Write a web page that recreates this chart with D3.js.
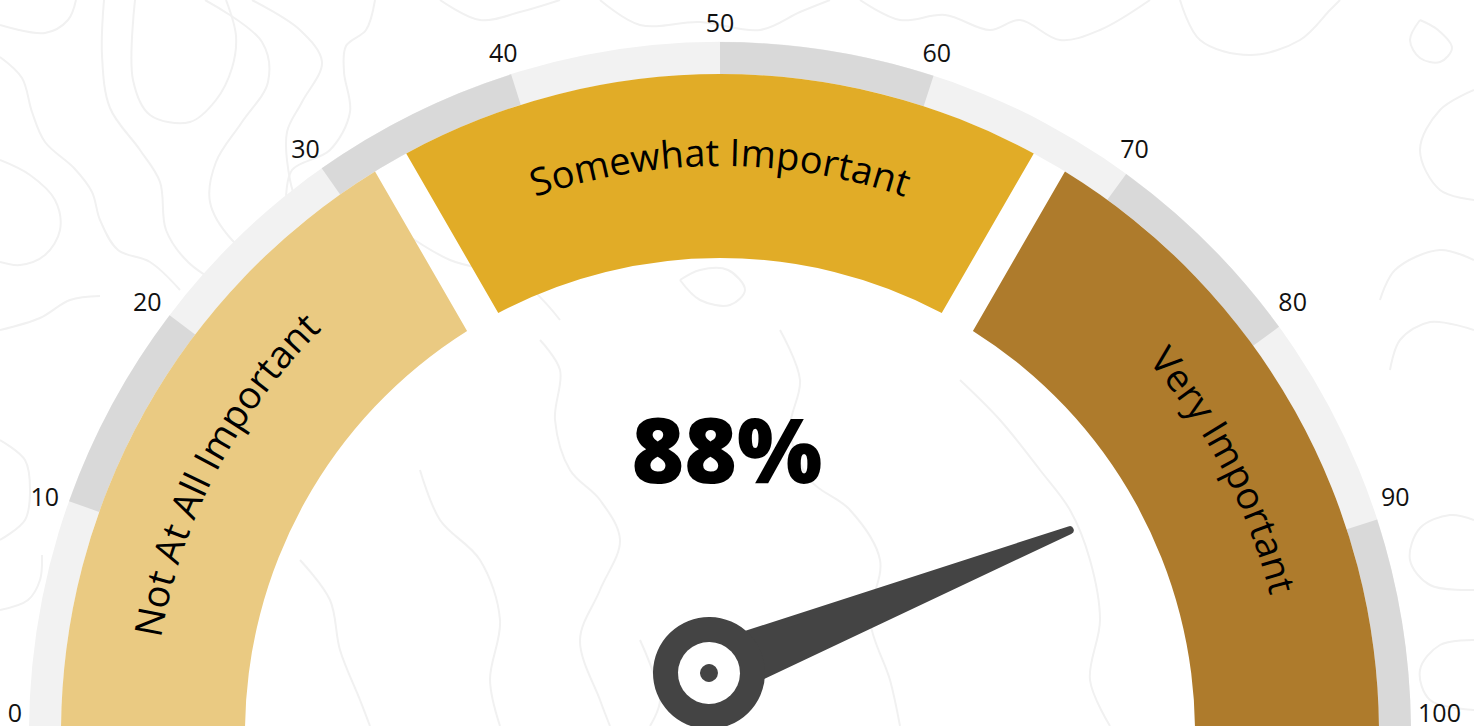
<!DOCTYPE html>
<html>
<head>
<meta charset="utf-8">
<script src="https://cdn.jsdelivr.net/npm/d3@7"></script>
<style>
  html, body { margin: 0; padding: 0; background: #ffffff; overflow: hidden; }
  svg { display: block; }
</style>
</head>
<body>
<svg id="chart" width="1474" height="726"></svg>
<script>
// ---- data ----
const tickValues = [0, 10, 20, 30, 40, 50, 60, 70, 80, 90, 100];
const bandColors = ["#f2f2f2", "#d9d9d9"];
const segmentNames = ["Not At All Important", "Somewhat Important", "Very Important"];
const segmentStarts = [0, 100 / 3, 200 / 3];
const segmentEnds = [100 / 3, 200 / 3, 100];
const segmentColors = ["#eaca82", "#e1ac27", "#ae7b2c"];
const gaugeValue = 88;
const valueLabel = "88%";

// faint topographic texture in the background
const contourLines = [
  [[0,25],[45,33],[68,20],[76,0]],
  [[0,57],[22,78],[32,112],[45,142],[74,168],[92,192],[100,220],[118,250],[150,262],[180,290]],
  [[104,0],[102,55],[110,108],[140,150],[160,182],[166,230],[188,262],[230,290]],
  [[135,0],[133,80],[150,115],[190,122],[216,100],[232,68],[236,36],[226,0]],
  [[205,0],[262,42],[268,82],[242,122],[216,162],[210,202],[232,240],[262,262]],
  [[252,0],[300,30],[322,62],[302,102],[287,132],[290,180],[300,212]],
  [[375,0],[366,30],[346,46],[344,72],[350,112],[330,150],[292,170],[286,200]],
  [[0,160],[30,175],[55,200],[60,230],[45,255],[20,265],[0,262]],
  [[0,330],[40,318],[70,300],[100,296]],
  [[0,540],[25,520],[30,490],[25,460],[0,440]],
  [[0,610],[28,600],[40,580],[42,555]],
  [[440,0],[480,20],[520,12],[560,0]],
  [[600,0],[640,25],[700,22],[760,30],[800,12],[830,0]],
  [[860,0],[900,20],[945,15],[990,30],[1020,20],[1060,40],[1100,30],[1150,0]],
  [[1180,0],[1200,40],[1250,55],[1300,40],[1330,10],[1340,0]],
  [[1420,20],[1438,30],[1452,48],[1440,62],[1420,58],[1410,40],[1420,20]],
  [[1474,90],[1440,110],[1420,150],[1440,190],[1474,200]],
  [[1474,260],[1440,250],[1395,270],[1380,300]],
  [[1474,330],[1430,322],[1400,340],[1390,370]],
  [[1474,520],[1450,515],[1420,528],[1410,560],[1430,585],[1474,590]],
  [[1474,640],[1440,645],[1420,670],[1430,700],[1474,710]],
  [[540,340],[560,370],[555,420],[570,470],[600,500],[620,540],[600,590],[580,640],[600,700],[610,726]],
  [[680,280],[700,300],[730,305],[745,290],[728,270],[700,270],[680,280]],
  [[780,330],[800,380],[790,430],[810,480],[850,510],[880,560],[870,620],[890,680],[900,726]],
  [[960,380],[1000,420],[1040,470],[1070,510],[1090,560],[1100,620],[1090,680],[1110,726]],
  [[300,560],[330,600],[340,650],[360,700],[370,726]],
  [[420,470],[440,520],[480,560],[500,620],[490,680],[500,726]],
  [[640,640],[660,700],[650,726]],
  [[1000,300],[1030,330],[1080,360],[1110,400],[1150,440]],
  [[400,230],[450,260],[520,280],[560,320]],
  [[1060,160],[1100,190],[1130,230],[1140,280]]
];

// ---- layout ----
const width = 1474, height = 726;
const cx = 720, cy = 733;
const bandOuter = 691, bandInner = 659;
const segOuter = 659, segInner = 475;
const segGap = 36;                 // constant linear gap between segments
const labelPathRadius = 567;
const deg = Math.PI / 180;
const labelPathExtend = 5 * deg;   // label arcs run past the gauge ends
const tickLabelRadius = 698;
const tickLabelHalfHeight = 13;
const hub = { x: 709, y: 673 };
const needleLength = 388;

const svg = d3.select("#chart");

// value -> angle (0 at 12 o'clock, clockwise)
const angle = d3.scaleLinear().domain([0, 100]).range([-Math.PI / 2, Math.PI / 2]);
// rim bands and their labels
const bandAngle = d3.scaleLinear().domain([0, 50, 100]).range([-88 * deg, 0, 90 * deg]);
const tickLabelAngle = d3.scaleLinear().domain([0, 100]).range([-88.3 * deg, 88.3 * deg]);

// background texture
const contourLine = d3.line().curve(d3.curveCatmullRom.alpha(0.5));
svg.append("g")
  .selectAll("path")
  .data(contourLines)
  .join("path")
  .attr("d", contourLine)
  .attr("fill", "none")
  .attr("stroke", "#f1f1f1")
  .attr("stroke-width", 2);

const gauge = svg.append("g").attr("transform", `translate(${cx},${cy})`);

// outer rim: light track with alternating darker bands
const bandArc = d3.arc().innerRadius(bandInner).outerRadius(bandOuter);
gauge.append("path")
  .attr("d", bandArc({ startAngle: angle(0), endAngle: angle(100) }))
  .attr("fill", bandColors[0]);
const bands = d3.pairs(tickValues).filter((d, i) => i % 2 === 1);
gauge.append("g")
  .selectAll("path")
  .data(bands)
  .join("path")
  .attr("d", d => bandArc({ startAngle: bandAngle(d[0]), endAngle: bandAngle(d[1]) }))
  .attr("fill", bandColors[1]);

// annular sector with fixed-width gaps at chosen ends
function sectorPath(a0, a1, rIn, rOut, gapStart, gapEnd) {
  const off = (g, r) => g ? Math.asin(g / 2 / r) : 0;
  const p = d3.path();
  const h = Math.PI / 2;
  p.arc(0, 0, rOut, a0 + off(gapStart, rOut) - h, a1 - off(gapEnd, rOut) - h, false);
  p.arc(0, 0, rIn, a1 - off(gapEnd, rIn) - h, a0 + off(gapStart, rIn) - h, true);
  p.closePath();
  return p.toString();
}

const segments = segmentNames.map((name, i) => ({
  name, start: segmentStarts[i], end: segmentEnds[i], color: segmentColors[i], i
}));
const last = segments.length - 1;

gauge.append("g")
  .selectAll("path")
  .data(segments)
  .join("path")
  .attr("d", d => sectorPath(angle(d.start), angle(d.end), segInner, segOuter,
                             d.i > 0 ? segGap : 0, d.i < last ? segGap : 0))
  .attr("fill", d => d.color);

// curved segment labels
const defs = svg.append("defs");
segments.forEach(d => {
  const a0 = angle(d.start) - (d.i === 0 ? labelPathExtend : 0);
  const a1 = angle(d.end) + (d.i === last ? labelPathExtend : 0);
  const p = d3.path();
  p.arc(0, 0, labelPathRadius, a0 - Math.PI / 2, a1 - Math.PI / 2, false);
  defs.append("path").attr("id", "seg-label-" + d.i).attr("d", p.toString());
});

gauge.append("g")
  .selectAll("text")
  .data(segments)
  .join("text")
  .attr("font-family", "'Open Sans', 'Noto Sans', sans-serif")
  .attr("font-size", 38)
  .attr("font-weight", 500)
  .attr("fill", "#000")
  .append("textPath")
  .attr("href", d => "#seg-label-" + d.i)
  .attr("startOffset", "50%")
  .attr("text-anchor", "middle")
  .text(d => d.name);

// tick labels around the rim, pushed out by half their box
const tickLabels = svg.append("g")
  .selectAll("text")
  .data(tickValues)
  .join("text")
  .attr("text-anchor", "middle")
  .attr("dominant-baseline", "central")
  .attr("font-family", "'Open Sans', 'Noto Sans', sans-serif")
  .attr("font-size", 25)
  .attr("fill", "#111")
  .text(d => d);
tickLabels.each(function(d) {
  const a = tickLabelAngle(d);
  const ux = Math.sin(a), uy = -Math.cos(a);
  const w = this.getComputedTextLength();
  const r = tickLabelRadius + Math.abs(ux) * w / 2 + Math.abs(uy) * tickLabelHalfHeight;
  d3.select(this).attr("x", cx + r * ux).attr("y", cy + r * uy);
});

// value readout
svg.append("text")
  .attr("x", 727)
  .attr("y", 483)
  .attr("text-anchor", "middle")
  .attr("font-family", "'Open Sans', 'Noto Sans', sans-serif")
  .attr("font-weight", 800)
  .attr("font-size", 90)
  .attr("fill", "#000")
  .text(valueLabel);

// needle
const needleDeg = angle(gaugeValue) / deg - 90;
const needle = svg.append("g")
  .attr("transform", `translate(${hub.x},${hub.y}) rotate(${needleDeg})`);
needle.append("path")
  .attr("d", `M0,-29 L${needleLength},-4 A4,4 0 0,1 ${needleLength},4 L0,29 Z`)
  .attr("fill", "#444444");
needle.append("circle").attr("r", 56).attr("fill", "#444444");
needle.append("circle").attr("r", 31).attr("fill", "#ffffff");
needle.append("circle").attr("r", 9).attr("fill", "#444444");
</script>
</body>
</html>
